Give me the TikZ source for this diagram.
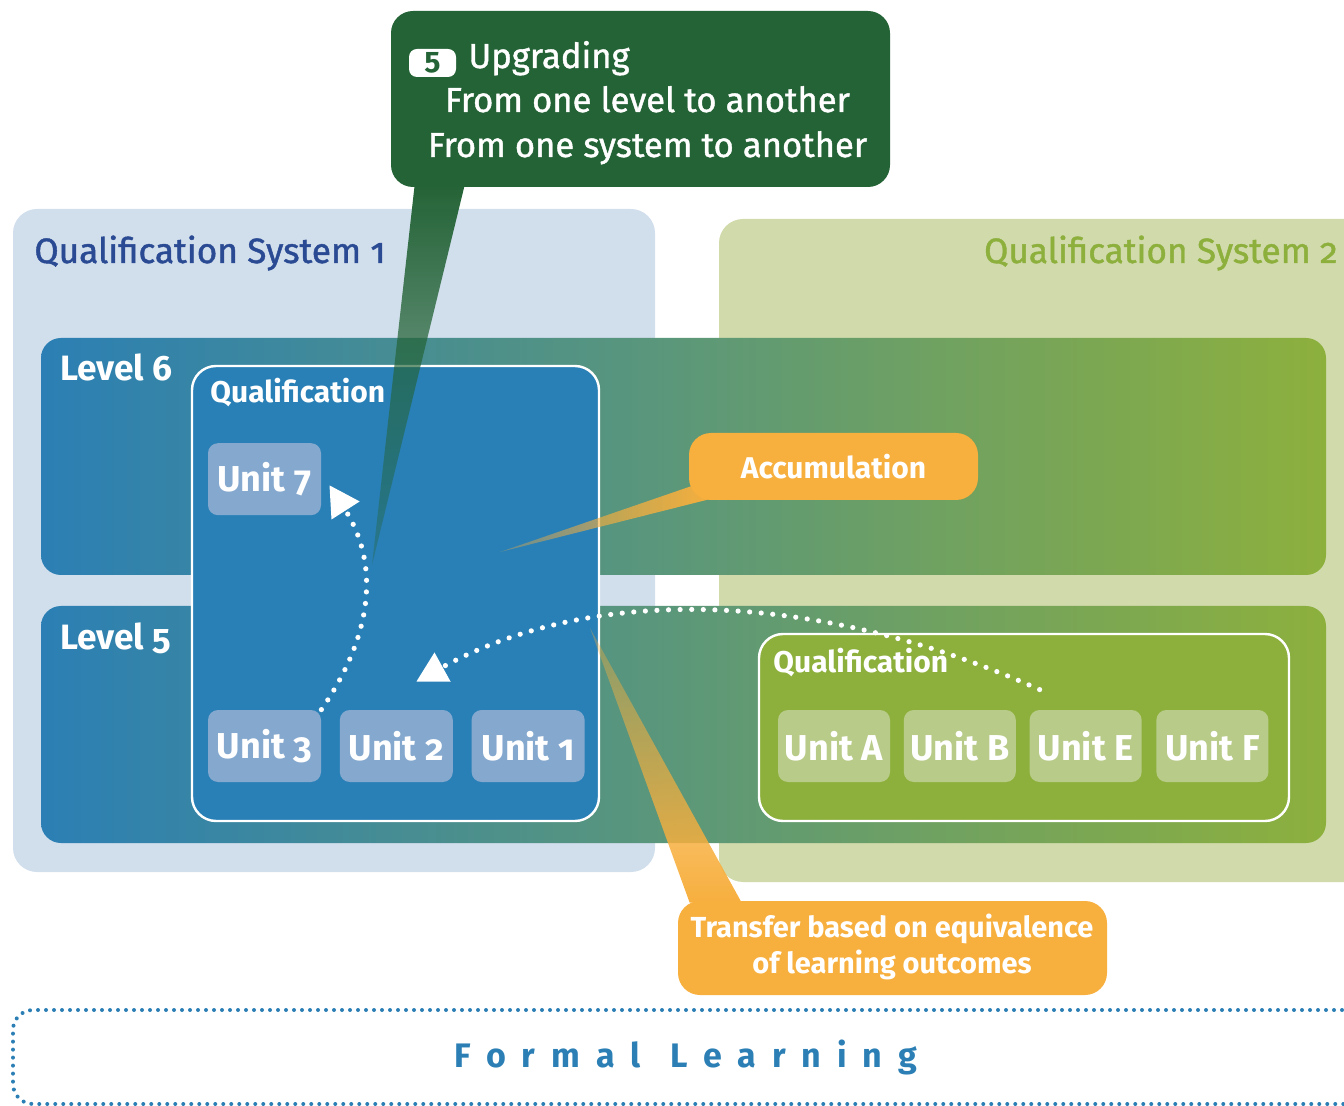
\documentclass[tikz,border=0pt]{standalone}
\usepackage{fontspec}
\setmainfont[Numbers=OldStyle]{Fira Sans}
\usetikzlibrary{arrows.meta,positioning,fadings}
\definecolor{qsonebg}{HTML}{D1DEEC}
\definecolor{qstwobg}{HTML}{D1DAAB}
\definecolor{qsonetext}{HTML}{2A4B93}
\definecolor{bandblue}{HTML}{2B7FB4}
\definecolor{bandgreen}{HTML}{8DB03D}
\definecolor{qualblue}{HTML}{2980B6}
\definecolor{unitblue}{HTML}{85A8CE}
\definecolor{unitgreen}{HTML}{B8CB89}
\definecolor{upgreen}{HTML}{246336}
\definecolor{callorange}{HTML}{F7AF3E}
\definecolor{formalblue}{HTML}{2B7FB5}
\tikzfading[name=fade down, top color=transparent!0, bottom color=transparent!70]
\tikzfading[name=fade up, top color=transparent!70, bottom color=transparent!0]
\tikzfading[name=fade left, left color=transparent!70, right color=transparent!0]
\begin{document}
\begin{tikzpicture}[x=0.5pt,y=-0.5pt]
\tikzstyle{system box}=[rounded corners=12pt, inner sep=0pt, minimum height=331.5pt]
\tikzstyle{system label}=[inner sep=0pt, font=\fontsize{17.6}{17.6}\selectfont\addfontfeature{FakeBold=1.2}]
\tikzstyle{level band}=[rounded corners=10pt, inner sep=0pt, minimum width=642.5pt, minimum height=118.5pt, left color=bandblue, right color=bandgreen]
\tikzstyle{qual box}=[draw=white, line width=1.2pt, rounded corners=12pt, inner sep=0pt]
\tikzstyle{unit box}=[rounded corners=5pt, inner sep=0pt, minimum width=56.5pt, minimum height=36pt, text=white, font=\bfseries\fontsize{18}{18}\selectfont]
\tikzstyle{white label}=[anchor=base west, inner sep=0pt, text=white, font=\bfseries\fontsize{15}{15}\selectfont]
\tikzstyle{callout text}=[anchor=base, inner sep=0pt, text=white, font=\bfseries\fontsize{14.5}{14.5}\selectfont]
\tikzset{callout/.style={rounded corners=11pt, inner sep=0pt},
  upgrading text/.style={inner sep=0pt, text=white, font=\fontsize{17.3}{17.3}\selectfont\addfontfeature{FakeBold=1.2}},
  dotarrow/.style={white, line width=2.6pt, line cap=round, dash pattern=on 0pt off 5.8pt, -{Triangle[length=15pt,width=16pt]}}}
\path[use as bounding box, clip] (0,0) rectangle (1344,1106);
% the two systems
\node[system box, fill=qsonebg, minimum width=321pt] (qsone) at (334,540.5) {};
\node[system box, fill=qstwobg, minimum width=330.5pt] (qstwo) at (1049.5,550.5) {};
\node[system label, anchor=base west, text=qsonetext] (qsonelabel) at (34,263) {Qualification System 1};
\node[system label, anchor=base east, text=bandgreen] (qstwolabel) at (1338,263) {Qualification System 2};
% levels
\node[level band] (levelsix) at (683.5,456.5) {};
\node[level band] (levelfive) at (683.5,724.5) {};
\node[white label, font=\bfseries\fontsize{17.6}{17.6}\selectfont] (levelsixlabel) at (60,381) {Level 6};
\node[white label, font=\bfseries\fontsize{17.6}{17.6}\selectfont] (levelfivelabel) at (60,650) {Level 5};
% qualifications
\node[qual box, fill=qualblue, minimum width=203.5pt, minimum height=227.5pt] (qualone) at (395.5,593.5) {};
\node[qual box, fill=bandgreen, minimum width=265pt, minimum height=93.5pt] (qualtwo) at (1024,727.5) {};
\node[white label] (qualonelabel) at (210,403) {Qualification};
\node[white label] (qualtwolabel) at (773,673) {Qualification};
% units
\node[unit box, fill=unitblue] (unitthree) at (264.5,746) {Unit 3};
\node[unit box, fill=unitblue, right=9pt of unitthree] (unittwo) {Unit 2};
\node[unit box, fill=unitblue, right=9pt of unittwo] (unitone) {Unit 1};
\node[unit box, fill=unitblue, above=97pt of unitthree] (unitseven) {Unit 7};
\node[unit box, fill=unitgreen, minimum width=56pt] (unita) at (834,746) {Unit A};
\node[unit box, fill=unitgreen, minimum width=56pt, right=6.5pt of unita] (unitb) {Unit B};
\node[unit box, fill=unitgreen, minimum width=56pt, right=6.5pt of unitb] (unite) {Unit E};
\node[unit box, fill=unitgreen, minimum width=56pt, right=7pt of unite] (unitf) {Unit F};
% upgrading
\node[callout, fill=upgreen, minimum width=249.5pt, minimum height=88pt] (upgrading) at (640.5,99) {};
\coordinate (upgradingtip) at (372,565);
\fill[upgreen, path fading=fade down] ([shift={(12pt,1pt)}]upgrading.south west) -- ([shift={(37pt,1pt)}]upgrading.south west) -- (upgradingtip) -- cycle;
\node[rounded corners=4pt, fill=white, minimum width=23.5pt, minimum height=14pt, inner sep=0pt, text=upgreen, font=\bfseries\fontsize{15}{15}\selectfont] (badge) at (432.5,63) {5};
\node[upgrading text, anchor=base west] (upgradingtitle) at (468,68) {Upgrading};
\node[upgrading text, anchor=base] (levelline) at (647.5,112) {From one level to another};
\node[upgrading text, anchor=base] (systemline) at (647.5,157) {From one system to another};
% accumulation
\node[callout, fill=callorange, minimum width=144.5pt, minimum height=33.5pt, text=white, font=\bfseries\fontsize{15}{15}\selectfont] (accumulation) at (833.5,466.5) {Accumulation};
\coordinate (accumulationtip) at (500,552);
\fill[callorange, path fading=fade left] ([shift={(1pt,7pt)}]accumulation.south west) -- ([shift={(12pt,1pt)}]accumulation.south west) -- (accumulationtip) -- cycle;
% transfer
\node[callout, fill=callorange, minimum width=214.5pt, minimum height=47pt] (transfer) at (892.5,948) {};
\coordinate (transfertip) at (590,628);
\fill[callorange, path fading=fade up] ([shift={(6pt,-1pt)}]transfer.north west) -- ([shift={(32pt,-1pt)}]transfer.north west) -- (transfertip) -- cycle;
\node[callout text] (transferone) at (892,937) {Transfer based on equivalence};
\node[callout text] (transfertwo) at (892,973) {of learning outcomes};
% moves between units
\draw[dotarrow] (unitthree.north east) .. controls +(55,-80) and +(48,75) .. ([shift={(4pt,-3pt)}]unitseven.east);
\draw[dotarrow] ([shift={(-23pt,10pt)}]unite.north) .. controls (820,591) and (595,583) .. ([shift={(10pt,14pt)}]unittwo.north);
% formal learning
\node[rounded corners=10pt, draw=formalblue, line width=2pt, line cap=round, dash pattern=on 0pt off 4pt, minimum width=678.5pt, minimum height=47pt, inner sep=0pt] (formal) at (691.5,1057) {};
\node[text=formalblue, font=\bfseries\fontsize{17}{17}\selectfont\addfontfeature{LetterSpace=47}] (formallabel) at (686,1057) {Formal\hspace{15pt}Learning};
\end{tikzpicture}
\end{document}
